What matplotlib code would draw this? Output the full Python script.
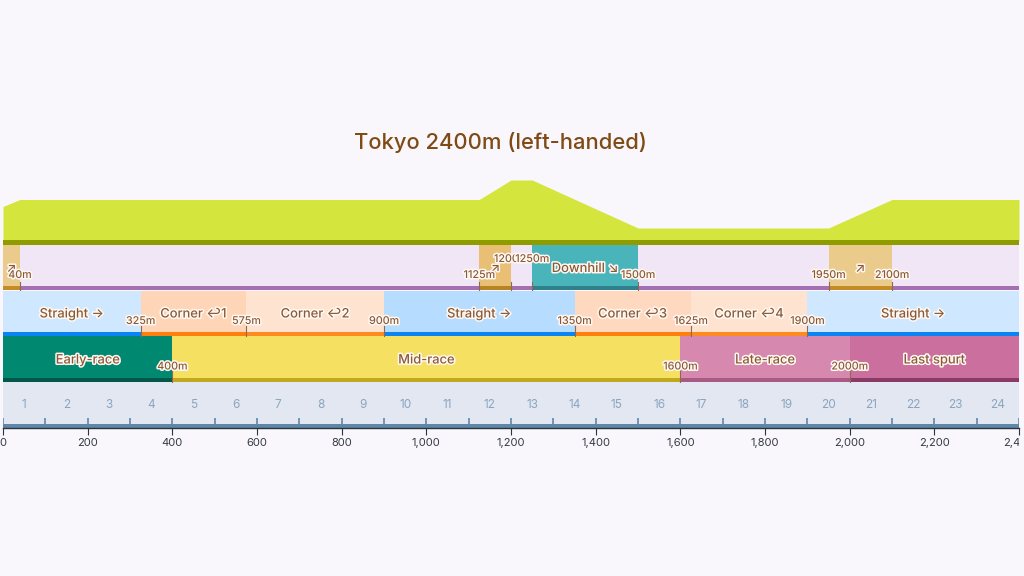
#!/usr/bin/env python3
"""Tokyo 2400m course profile: elevation, slopes, straights/corners, race phases, furlongs."""
import matplotlib

matplotlib.use("Agg")
import matplotlib.pyplot as plt
import matplotlib.patheffects as pe
from matplotlib.ticker import FuncFormatter, MultipleLocator
from matplotlib.transforms import Bbox

TITLE = "Tokyo 2400m (left-handed)"

# elevation profile, height above the base of the strip
elev_x = [0, 40, 1125, 1200, 1250, 1500, 1950, 2100, 2400]
elev_h = [33.5, 40.5, 40.5, 60, 60, 12, 12, 40.5, 40.5]

# slopes
slope_start = [0, 1125, 1250, 1950]
slope_end = [40, 1200, 1500, 2100]
slope_name = ["↗", "↗", "Downhill ↘", "↗"]
slope_fill = ["#ebcb8c", "#e8bf74", "#49b5ba", "#ebcb8c"]
slope_line = ["#c58b24", "#b98320", "#2f7f8c", "#c58b24"]

# straights and corners
sect_start = [0, 325, 575, 900, 1350, 1625, 1900]
sect_end = [325, 575, 900, 1350, 1625, 1900, 2400]
sect_name = ["Straight →", "Corner ↩1", "Corner ↩2", "Straight →",
             "Corner ↩3", "Corner ↩4", "Straight →"]
sect_fill = ["#cfe8ff", "#ffd5b8", "#ffe3d1", "#b6dcff", "#ffd9bf", "#ffe3d1", "#cfe8ff"]
sect_line = ["#0a84f5", "#ff7f0e", "#ff8a20", "#0a84f5", "#ff7f0e", "#ff8a20", "#0a84f5"]

# race phases
phase_start = [0, 400, 1600, 2000]
phase_end = [400, 1600, 2000, 2400]
phase_name = ["Early-race", "Mid-race", "Late-race", "Last spurt"]
phase_fill = ["#018870", "#f5e062", "#d688ae", "#cb6f9e"]
phase_line = ["#03564a", "#c2a81c", "#a85a85", "#8b3a66"]

# boundary labels (distance in m)
slope_marks = [40, 1125, 1200, 1250, 1500, 1950, 2100]
slope_mark_high = [1200, 1250]
sect_marks = [325, 575, 900, 1350, 1625, 1900]
phase_marks = [400, 1600, 2000]

furlong_labels = list(range(1, 25))
furlong_ticks = list(range(0, 2500, 100))

BG = "#f9f7fc"
BROWN = "#8a5a38"
TICK = "#8a6a50"
HALO = [pe.withStroke(linewidth=2.2, foreground="#fff8f2")]
FONT = ["Inter", "DejaVu Sans"]

plt.rcParams["font.family"] = FONT

fig = plt.figure(figsize=(10.24, 5.76), dpi=100, facecolor=BG)
# y runs in layout units equal to image rows
ax = fig.add_axes([3 / 1024, 1 - 428 / 576, 1016 / 1024, 248 / 576], facecolor="none")
ax.set_xlim(0, 2400)
ax.set_ylim(428, 180)


def lane(starts, ends, fills, lines, top, bottom, stripe=4):
    widths = [e - s for s, e in zip(starts, ends)]
    ax.bar(starts, bottom - top, widths, bottom=top, align="edge", color=fills, lw=0)
    ax.bar(starts, stripe, widths, bottom=bottom - stripe, align="edge", color=lines, lw=0)


def note(x, y, s, size=9.3, **kw):
    ax.text(x, y, s, ha="center", va="center", fontsize=size, color=BROWN,
            fontweight="medium", path_effects=HALO, zorder=6, **kw)


# elevation strip
ax.fill_between(elev_x, [240 - h for h in elev_h], 241, color="#d4e63d", lw=0)
ax.bar([0], 5, [2400], bottom=240, align="edge", color="#8f9c00", lw=0)

# slope lane
ax.bar([0], 45, [2400], bottom=245, align="edge", color="#f0e6f5", lw=0)
ax.bar([0], 4, [2400], bottom=286, align="edge", color="#a56fb3", lw=0)
lane(slope_start, slope_end, slope_fill, slope_line, 245, 290)
for s, e, name in zip(slope_start, slope_end, slope_name):
    note((s + e) / 2, 269, name)
for m in slope_marks:
    ax.plot([m, m], [282, 290], color=TICK, lw=0.8, zorder=4)
    note(m, 259 if m in slope_mark_high else 275, f"{m}m", size=7.7)

# straights and corners
lane(sect_start, sect_end, sect_fill, sect_line, 291, 336)
for s, e, name in zip(sect_start, sect_end, sect_name):
    note((s + e) / 2, 314.5, name)
for m in sect_marks:
    ax.plot([m, m], [326, 336], color=TICK, lw=0.8, zorder=4)
    note(m, 321, f"{m}m", size=7.7)

# race phases
lane(phase_start, phase_end, phase_fill, phase_line, 336, 382)
for s, e, name in zip(phase_start, phase_end, phase_name):
    note((s + e) / 2, 360.5, name)
for m in phase_marks:
    ax.plot([m, m], [371, 382], color=TICK, lw=0.8, zorder=4)
    note(m, 366.5, f"{m}m", size=7.7)

# furlong lane
ax.bar([0], 42, [2400], bottom=382, align="edge", color="#e3e7f1", lw=0)
ax.bar([0], 4, [2400], bottom=424, align="edge", color="#5f87a8", lw=0)
for i in furlong_labels:
    ax.text((i - 0.5) * 100, 405, str(i), ha="center", va="center", fontsize=8.5, color="#8aa5c0")
ax.vlines(furlong_ticks, 418, 425, color="#5f87a8", lw=1.2)

ax.text(500 / 1024, 1 - 142.5 / 576, TITLE, transform=fig.transFigure, ha="center", va="center",
        fontsize=15.8, color="#7f4a14", fontweight="medium")

# distance axis
for side in ["top", "left", "right"]:
    ax.spines[side].set_visible(False)
ax.spines["bottom"].set_color("#2b3440")
ax.spines["bottom"].set_linewidth(1)
ax.set_yticks([])
ax.xaxis.set_major_locator(MultipleLocator(200))
ax.xaxis.set_major_formatter(FuncFormatter(lambda v, _: f"{int(v):,}"))
ax.tick_params(axis="x", length=5, width=0.8, color="#2b3440", labelsize=8,
               labelcolor="#333a44", pad=2)

fig.canvas.draw()
# the last label is cut off at the plot edge
clip = Bbox.from_extents(0, 0, 1019, 576)
for lab in ax.get_xticklabels():
    lab.set_clip_box(clip)
    lab.set_clip_on(True)

fig.savefig("out.png", dpi=100, facecolor=BG)
